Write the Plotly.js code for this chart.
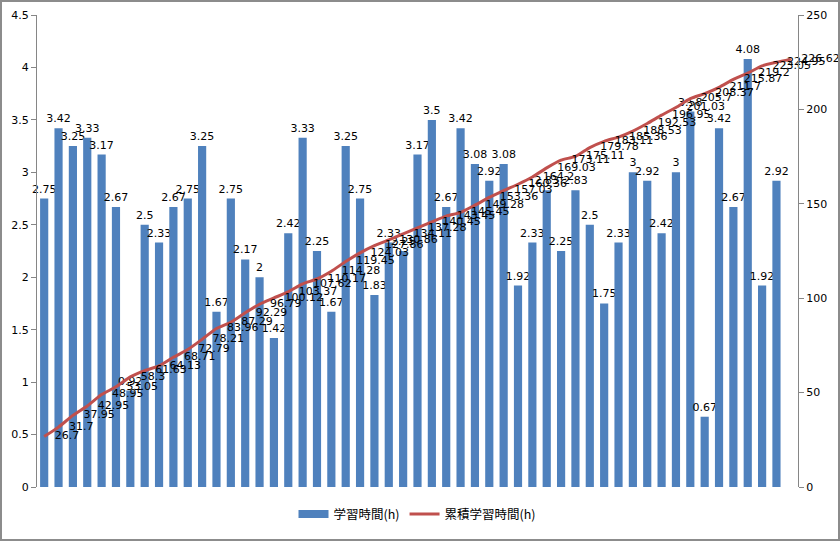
<!DOCTYPE html>
<html>
<head>
<meta charset="utf-8">
<script src="https://cdn.plot.ly/plotly-3.0.1.min.js"></script>
<style>
html,body{margin:0;padding:0;background:#fff;}
#wrap{position:relative;width:840px;height:541px;}
#chart{width:840px;height:541px;}
#frame{position:absolute;left:0;top:0;width:840px;height:541px;box-sizing:border-box;border:2px solid #8c8c8c;pointer-events:none;}
</style>
</head>
<body>
<div id="wrap"><div id="chart"></div><div id="frame"></div></div>
<script>
// Daily study hours (bars), 52 values
const studyHours = [2.75,3.42,3.25,3.33,3.17,2.67,0.92,2.5,2.33,2.67,
  2.75,3.25,1.67,2.75,2.17,2,1.42,2.42,3.33,2.25,
  1.67,3.25,2.75,1.83,2.33,2.25,3.17,3.5,2.67,3.42,
  3.08,2.92,3.08,1.92,2.33,2.83,2.25,2.83,2.5,1.75,
  2.33,3,2.92,2.42,3,3.58,0.67,3.42,2.67,4.08,
  1.92,2.92];
// Cumulative study hours (line), 53 values
const cumulativeHours = [26.7,31.7,37.95,42.95,48.95,53.05,58.3,61.63,64.13,68.71,
  72.79,78.21,83.96,87.29,92.29,96.79,100.12,103.37,107.62,110.17,
  114.28,119.45,124.03,127.86,130.86,134.11,137.28,140.45,143.45,145.45,
  149.28,153.36,157.03,160.36,164.2,169.03,173.11,175.11,179.78,183.11,
  185.36,188.53,192.53,196.95,201.03,205.7,208.37,211.7,215.87,219.2,
  223.05,224.95,226.62];
const barName = '学習時間(h)';
const lineName = '累積学習時間(h)';
const barCats = studyHours.map((v,i)=>i+1);
const lineCats = cumulativeHours.map((v,i)=>i+1);

const fontFam = '"DejaVu Sans", "Noto Sans CJK JP", sans-serif';
const pad = '\u00a0\u00a0\u00a0';

const traces = [
  {
    type:'bar', name:barName, x:barCats, y:studyHours, yaxis:'y',
    marker:{color:'#4F81BD'},
    text:studyHours.map(String), textposition:'outside', constraintext:'none',
    textfont:{family:fontFam,size:11,color:'#000'},
    cliponaxis:false, showlegend:false, legendgroup:'bars'
  },
  {
    // legend proxy for the bars (wide rectangle swatch like the reference)
    type:'scatter', mode:'lines', name:barName, x:[null], y:[null], yaxis:'y',
    line:{color:'#4F81BD', width:8}, legendgroup:'bars', showlegend:true
  },
  {
    type:'scatter', mode:'lines+text', name:lineName, x:lineCats, y:cumulativeHours, yaxis:'y2',
    line:{color:'#C0504D', width:3, shape:'spline', smoothing:0.6},
    text:cumulativeHours.map(v=>pad+String(v)), textposition:'middle right',
    textfont:{family:fontFam,size:11,color:'#000'},
    cliponaxis:false
  }
];

const layout = {
  width:840, height:541,
  margin:{l:37, r:42, t:15, b:49},
  paper_bgcolor:'#fff', plot_bgcolor:'#fff',
  font:{family:fontFam, size:11, color:'#000'},
  bargap:0.43,
  showlegend:true,
  legend:{orientation:'h', x:0.5, xanchor:'center', y:-0.058, yanchor:'middle',
    font:{family:'"Noto Sans CJK JP", sans-serif', size:12.5, color:'#000'},
    traceorder:'normal', itemclick:false},
  xaxis:{range:[0.5,53.5], showticklabels:false, ticks:'', showgrid:false, zeroline:false, showline:false},
  yaxis:{range:[0,4.5], dtick:0.5, showgrid:false, zeroline:false,
    showline:true, linecolor:'#868686', linewidth:1, ticks:'outside', ticklen:5, tickcolor:'#868686',
    tickfont:{family:fontFam,size:11,color:'#000'}},
  yaxis2:{range:[0,250], dtick:50, overlaying:'y', side:'right', showgrid:false, zeroline:false,
    showline:true, linecolor:'#868686', linewidth:1, ticks:'outside', ticklen:5, tickcolor:'#868686',
    tickfont:{family:fontFam,size:11,color:'#000'}}
};

Plotly.newPlot('chart', traces, layout, {displayModeBar:false, staticPlot:true});
</script>
</body>
</html>
